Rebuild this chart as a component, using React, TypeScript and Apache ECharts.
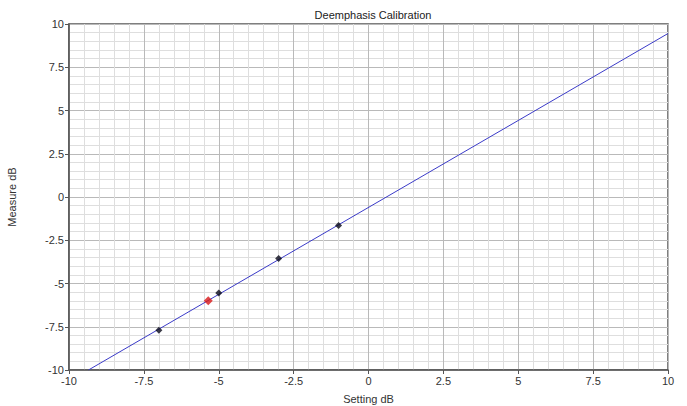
import React, { useEffect, useRef } from "react";
import * as echarts from "echarts";

const xTicks = [-10, -7.5, -5, -2.5, 0, 2.5, 5, 7.5, 10];
const yTicks = [-10, -7.5, -5, -2.5, 0, 2.5, 5, 7.5, 10];
const fitX = [-9.35, 10];
const fitY = [-10, 9.45];
const measX = [-7, -5, -3, -1];
const measY = [-7.7, -5.55, -3.55, -1.65];
const targetX = [-5.35];
const targetY = [-6.0];

const FONT = "Liberation Sans";

export default function App() {
  const ref = useRef<HTMLDivElement>(null);
  useEffect(() => {
    document.body.style.margin = "0";
    const chart = echarts.init(ref.current!, undefined, { renderer: "svg" });
    const axisCommon = {
      type: "value" as const,
      interval: 2.5,
      axisLine: { show: true, onZero: false, lineStyle: { color: "#555", width: 1.5 } },
      axisTick: { show: true, length: 4, lineStyle: { color: "#555" } },
      axisLabel: { color: "#333", fontSize: 11, fontFamily: FONT, margin: 5 },
      splitLine: { show: true, lineStyle: { color: "#b9b9b9", width: 1 } },
      minorTick: { show: false, splitNumber: 5 },
      minorSplitLine: { show: true, lineStyle: { color: "#dedede", width: 1 } },
      nameLocation: "middle" as const,
      nameTextStyle: { color: "#333", fontSize: 11, fontFamily: FONT },
    };
    chart.setOption({
      animation: false,
      backgroundColor: "#fff",
      title: {
        text: "Deemphasis Calibration",
        left: 368,
        top: 4,
        textAlign: "center",
        textStyle: { fontSize: 11, fontWeight: "normal", color: "#222", fontFamily: FONT },
      },
      grid: {
        left: 69,
        top: 24,
        right: 19,
        bottom: 36,
        show: true,
        borderColor: "#555",
        borderWidth: 1.5,
        backgroundColor: "transparent",
        containLabel: false,
        outerBoundsMode: "none",
      },
      xAxis: {
        ...axisCommon,
        min: xTicks[0],
        max: xTicks[xTicks.length - 1],
        name: "Setting dB",
        nameGap: 23,
      },
      yAxis: {
        ...axisCommon,
        min: yTicks[0],
        max: yTicks[yTicks.length - 1],
        name: "Measure dB",
        nameGap: 52,
      },
      series: [
        {
          type: "line",
          data: fitX.map((x, i) => [x, fitY[i]]),
          showSymbol: false,
          lineStyle: { color: "#3b3bc8", width: 1 },
          z: 2,
        },
        {
          type: "scatter",
          data: measX.map((x, i) => [x, measY[i]]),
          symbol: "diamond",
          symbolSize: 7,
          itemStyle: { color: "#0a0a1a" },
          z: 3,
        },
        {
          type: "scatter",
          data: targetX.map((x, i) => [x, targetY[i]]),
          symbol: "diamond",
          symbolSize: 9,
          itemStyle: { color: "#d81818" },
          z: 4,
        },
      ],
    });
    return () => chart.dispose();
  }, []);
  return <div ref={ref} style={{ width: 687, height: 406 }} />;
}
